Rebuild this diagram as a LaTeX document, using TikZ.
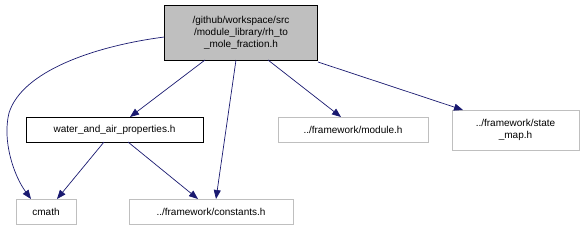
\documentclass[tikz,border=0pt]{standalone}
\usepackage{fontspec}
\setmainfont{Liberation Sans}
\usetikzlibrary{arrows.meta}
\definecolor{edgec}{HTML}{191970}
\definecolor{grayb}{HTML}{BFBFBF}
\tikzset{
  box/.style={draw=black, fill=white, inner sep=0pt, align=center, font=\fontsize{10}{12}\selectfont},
  gbox/.style={box, draw=grayb},
  edge/.style={draw=edgec, -{Triangle[length=9pt,width=7pt]}, line width=0.7pt},
}
\begin{document}
\begin{tikzpicture}[x=1pt,y=1pt]
\useasboundingbox (0,0) rectangle (584,231);
\node[box, fill=grayb, minimum width=153, minimum height=55] (top) at (241,198.5) {/github/workspace/src\\/module\_library/rh\_to\\\_mole\_fraction.h};
\node[box, minimum width=177, minimum height=25] (wat) at (114.5,101.5) {water\_and\_air\_properties.h};
\node[gbox, minimum width=60, minimum height=25] (cm) at (46,19.5) {cmath};
\node[gbox, minimum width=164, minimum height=25] (con) at (211,19.5) {../framework/constants.h};
\node[gbox, minimum width=150, minimum height=25] (mod) at (353,101.5) {../framework/module.h};
\node[gbox, minimum width=127, minimum height=40] (st) at (515.5,101) {../framework/state\\\_map.h};
\coordinate (cs) at (top.west |- 0,194);
\draw[edge] (cs) .. controls (95,185) and (22,160) .. (9,118) .. controls (2,90) and (14,55) .. (31,32);
\draw[edge] (205,171) -- (130,114);
\draw[edge] (236,171) -- (216,32);
\draw[edge] (268,171) -- (341,114);
\draw[edge] (318,169) -- (463,121);
\draw[edge] (104,89) -- (57,32);
\draw[edge] (128,89) -- (198,32);
\end{tikzpicture}
\end{document}
